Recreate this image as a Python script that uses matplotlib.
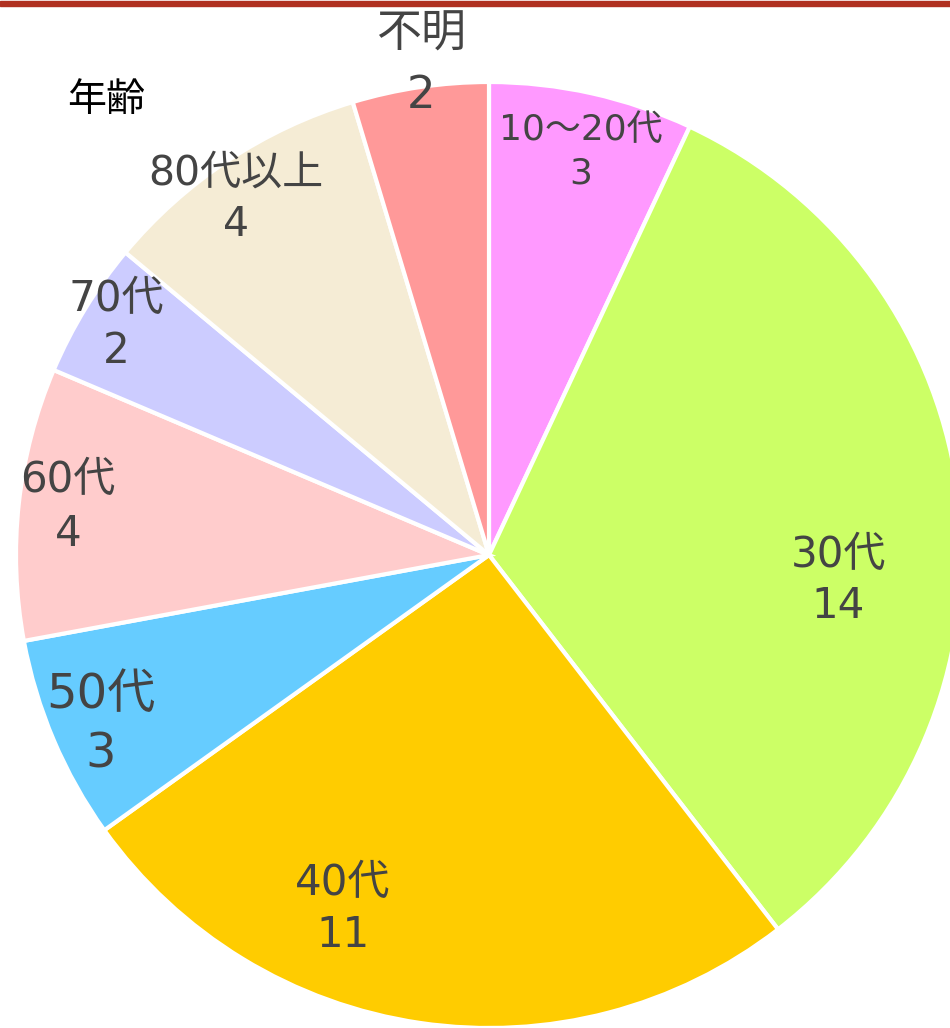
import matplotlib.pyplot as plt

plt.rcParams['font.family'] = ['DejaVu Sans', 'Noto Sans CJK JP']

labels = ['10～20代', '30代', '40代', '50代', '60代', '70代', '80代以上', '不明']
counts = [3, 14, 11, 3, 4, 2, 4, 2]
colors = ['#FF99FF', '#CCFF66', '#FFCC00', '#66CCFF', '#FFCCCC', '#CCCCFF', '#F5ECD5', '#FF9999']

# label layout in pixels: x centre, y centre of each of the two lines, font size
label_x = [581, 838, 343, 101, 68, 116, 236, 421]
label_y1 = [127, 552, 880, 690, 477, 296, 170, 30]
label_y2 = [170, 603, 932, 750, 531, 348, 221, 92]
label_px = [36, 42, 42, 48, 42, 42, 41, 45]

W, H = 950, 1028
fig = plt.figure(figsize=(W / 100, H / 100), dpi=100)
ax = fig.add_axes([0, 0, 1, 1])

cx, cy, r = 489, H - 555, 473
ax.pie(counts, colors=colors, startangle=90, counterclock=False,
       center=(cx, cy), radius=r, frame=True,
       wedgeprops=dict(edgecolor='white', linewidth=3))
ax.set_xlim(0, W)
ax.set_ylim(0, H)
ax.set_aspect('equal')
ax.axis('off')

pt = 72 / 100
for lab, n, x, y1, y2, px in zip(labels, counts, label_x, label_y1, label_y2, label_px):
    base = 0.364 * px
    ax.text(x, H - y1 - base, lab, ha='center', va='baseline', fontsize=px * pt, color='#444444')
    ax.text(x, H - y2 - base, str(n), ha='center', va='baseline', fontsize=px * pt, color='#444444')

ax.text(106, H - 100, '年齢', ha='center', va='center', fontsize=39 * pt, color='black',
        family='Noto Sans CJK JP')

# red rule at the top
fig.add_artist(plt.Rectangle((0, 1 - 6 / H), 1, 5 / H, transform=fig.transFigure,
                             color='#B03020', zorder=10))

fig.savefig('out.png', dpi=100)
